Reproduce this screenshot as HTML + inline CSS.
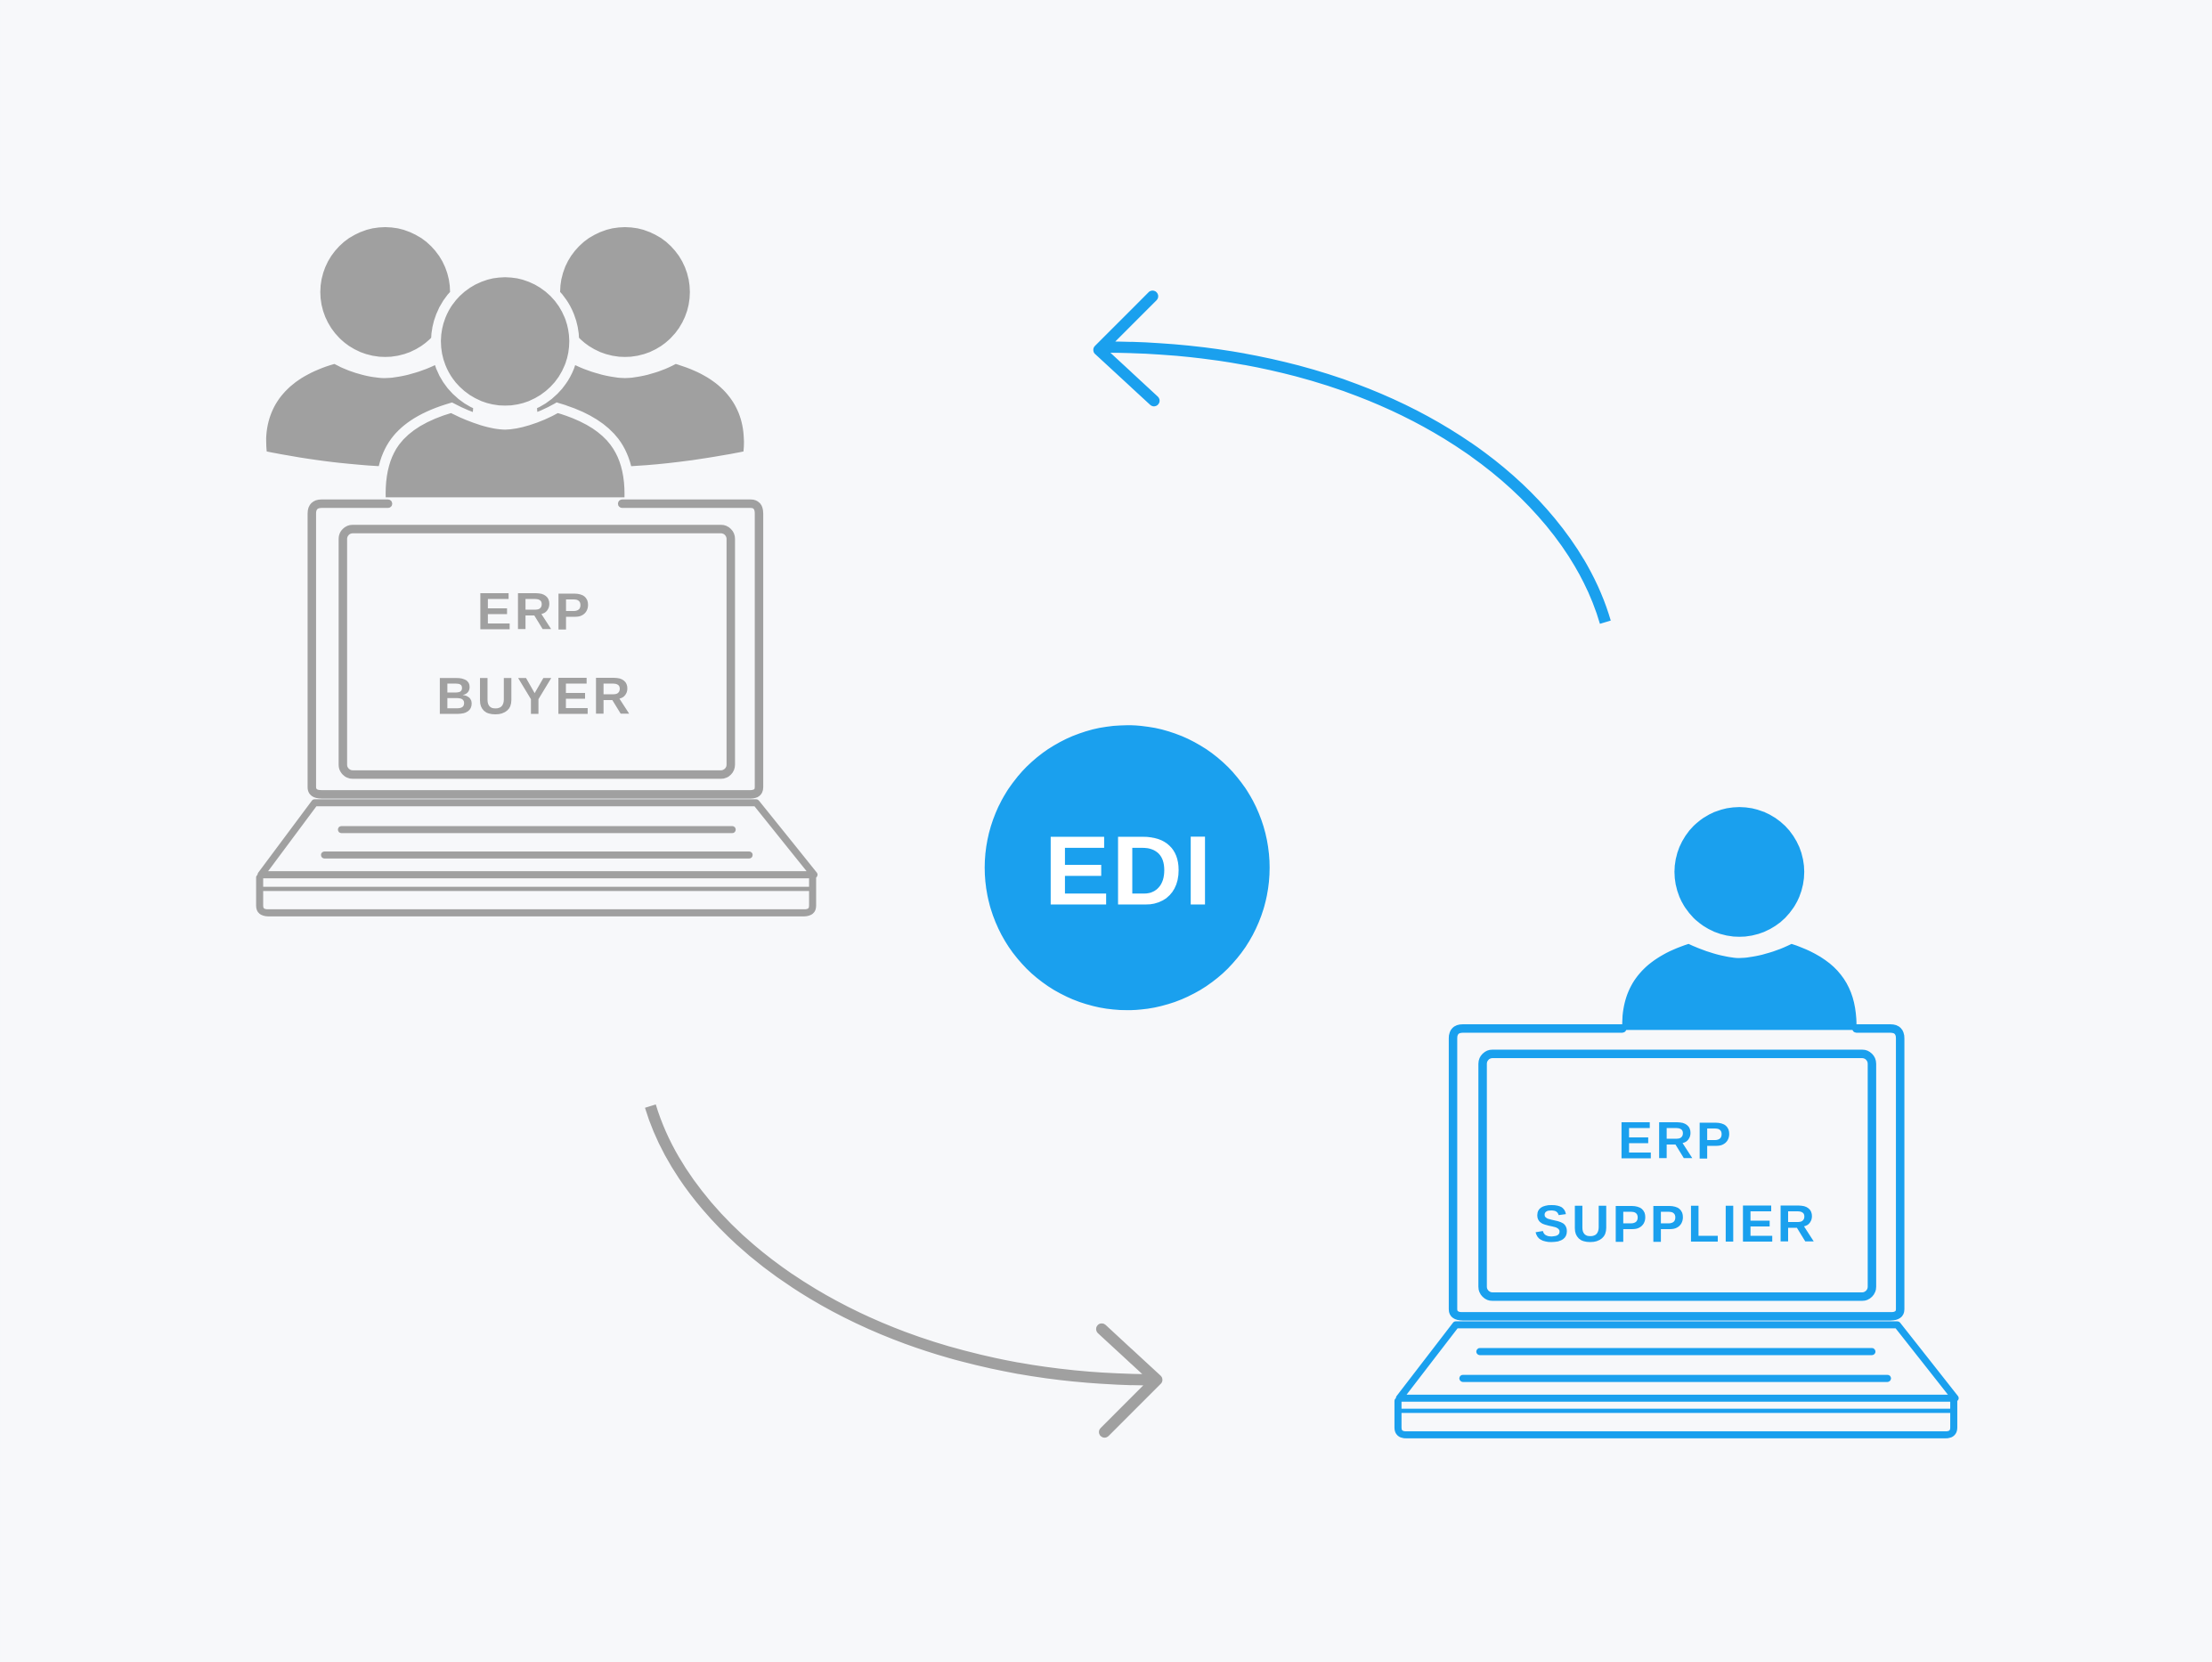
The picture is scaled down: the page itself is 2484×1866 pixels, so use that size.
<!DOCTYPE html>
<html><head><meta charset="utf-8"><style>
html,body{margin:0;padding:0;background:#f7f8fa;}
svg{display:block}
text{font-family:"Liberation Sans",sans-serif;}
</style></head><body>
<svg width="2484" height="1866" viewBox="0 0 1568 1178" xmlns="http://www.w3.org/2000/svg">
<rect width="1568" height="1178" fill="#f7f8fa"/>
<g fill="#a0a0a0">
<path d="M189,320 C186,290 202,268 237,258 C250,265 265,268 273,268 C281,268 296,265 310,258 C345,268 340,300 318,330 C290,332 250,332 189,320Z"/>
<path d="M527,320 C530,290 514,268 479,258 C466,265 451,268 443,268 C435,268 420,265 406,258 C371,268 376,300 398,330 C426,332 466,332 527,320Z"/>
<circle cx="273" cy="207" r="46"/>
<circle cx="443" cy="207" r="46"/>
</g>
<g fill="#a0a0a0" stroke="#f7f8fa" stroke-width="7">
<circle cx="358" cy="242" r="49"/>
<path d="M270,356 C268,320 282,300 320,289 C335,297 350,301 358,301 C366,301 381,297 395,289 C433,300 448,320 446,356Z"/>
</g>
<g fill="none" stroke="#a0a0a0" stroke-linecap="round" stroke-linejoin="round">
<path d="M275,357 H228 Q221,357 221,364 V558 Q221,563 228,563 H532 Q538,563 538,558 V364 Q538,357 532,357 H441" stroke-width="6"/>
<rect x="243" y="375" width="275" height="174" rx="7" stroke-width="6"/>
<path d="M223,569 H536 L577,620 H185 Z" stroke-width="5"/>
<line x1="242" y1="588" x2="519" y2="588" stroke-width="5"/>
<line x1="230" y1="606" x2="531" y2="606" stroke-width="5"/>
<path d="M184,622 V642 Q184,647 190,647 H570 Q576,647 576,642 V622" stroke-width="5"/>
<line x1="184" y1="630" x2="576" y2="630" stroke-width="3"/>
</g>
<text x="379" y="446" font-size="37" font-weight="bold" fill="#a0a0a0" text-anchor="middle" letter-spacing="2">ERP</text>
<text x="379" y="506" font-size="37" font-weight="bold" fill="#a0a0a0" text-anchor="middle" letter-spacing="2">BUYER</text>
<circle cx="799" cy="615" r="101" fill="#1aa0ee"/>
<text x="800" y="641" font-size="70" font-weight="bold" fill="#fff" text-anchor="middle" letter-spacing="1">EDI</text>
<g fill="#1aa0ee">
<circle cx="1233" cy="618" r="46"/>
<path d="M1150,730 C1149,700 1163,680 1197,669 C1212,676 1226,679 1233,679 C1241,679 1256,676 1270,669 C1304,680 1317,700 1316,730Z"/>
</g>
<g fill="none" stroke="#1aa0ee" stroke-linecap="round" stroke-linejoin="round">
<path d="M1150,729 H1037 Q1030,729 1030,736 V928 Q1030,933 1037,933 H1340 Q1347,933 1347,928 V736 Q1347,729 1340,729 H1316" stroke-width="6"/>
<rect x="1051" y="747" width="276" height="172" rx="7" stroke-width="6"/>
<path d="M1032,939 H1345 L1386,991 H992 Z" stroke-width="5"/>
<line x1="1049" y1="958" x2="1327" y2="958" stroke-width="5"/>
<line x1="1037" y1="977" x2="1338" y2="977" stroke-width="5"/>
<path d="M991,993 V1012 Q991,1017 997,1017 H1379 Q1385,1017 1385,1012 V993" stroke-width="5"/>
<line x1="991" y1="1000" x2="1385" y2="1000" stroke-width="3"/>
</g>
<text x="1188" y="821" font-size="37" font-weight="bold" fill="#1aa0ee" text-anchor="middle" letter-spacing="2">ERP</text>
<text x="1188" y="880" font-size="37" font-weight="bold" fill="#1aa0ee" text-anchor="middle" letter-spacing="2">SUPPLIER</text>
<g fill="none" stroke-width="8">
<path d="M1138,441 C1110,345 985,246 783,246" stroke="#1aa0ee"/>
<path d="M817,210 L779,248 L818,284" stroke="#1aa0ee" stroke-linecap="round" stroke-linejoin="round"/>
<path d="M461,784 C490,880 620,978 818,978" stroke="#a0a0a0"/>
<path d="M781,942 L820,978 L783,1015" stroke="#a0a0a0" stroke-linecap="round" stroke-linejoin="round"/>
</g>
</svg>
</body></html>
